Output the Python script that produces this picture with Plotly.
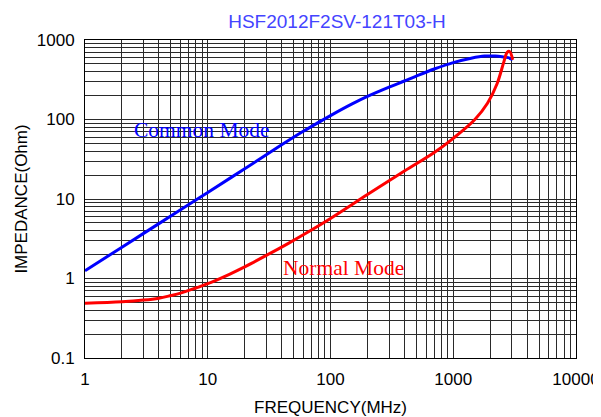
import plotly.graph_objects as go

# Data
cm_freq = [1, 2, 4, 8, 10, 20, 40, 60, 80, 100, 150, 200, 300, 400, 500, 700, 1000, 1400, 1800, 2200, 2500, 2800, 3050]
cm_imp = [1.25, 2.48, 4.9, 9.7, 12.1, 24, 48, 71, 92, 112, 157, 195, 255, 305, 352, 432, 520, 590, 628, 627, 616, 600, 565]

nm_freq = [1, 2, 3, 4, 5, 6, 8, 10, 15, 20, 30, 45, 60, 100, 200, 400, 700, 1000, 1500, 1900, 2275, 2580, 2750, 2880, 3050]
nm_imp = [0.49, 0.51, 0.535, 0.565, 0.61, 0.655, 0.76, 0.86, 1.13, 1.40, 1.95, 2.75, 3.55, 5.7, 11.4, 22.5, 38.5, 58, 100, 160, 282, 527, 700, 717, 565]

x_ticks = [1, 10, 100, 1000, 10000]
x_ticktext = ["1", "10", "100", "1000", "10000"]
y_ticks = [0.1, 1, 10, 100, 1000]
y_ticktext = ["0.1", "1", "10", "100", "1000"]

title_text = "HSF2012F2SV-121T03-H"
x_title = "FREQUENCY(MHz)"
y_title = "IMPEDANCE(Ohm)"

fig = go.Figure()
fig.add_trace(go.Scatter(x=cm_freq, y=cm_imp, mode="lines", line=dict(color="#0000ff", width=3),
                         line_shape="spline", name="Common Mode", showlegend=False))
fig.add_trace(go.Scatter(x=nm_freq, y=nm_imp, mode="lines", line=dict(color="#ff0000", width=3),
                         line_shape="spline", name="Normal Mode", showlegend=False))

grid_color = "#2a2a2a"
axis_font = dict(family="Liberation Sans, Arial", size=17, color="black")
title_font = dict(family="Liberation Sans, Arial", size=17, color="black")

fig.update_xaxes(type="log", range=[0, 4], tickmode="array", tickvals=x_ticks, ticktext=x_ticktext,
                 showgrid=True, gridcolor=grid_color, gridwidth=1,
                 minor=dict(dtick="D1", showgrid=True, gridcolor=grid_color, gridwidth=1, ticks=""),
                 showline=True, linecolor="black", linewidth=1, mirror=True,
                 ticks="", tickfont=axis_font, ticklabelstandoff=6, automargin=False,
                 title=dict(text=x_title, font=title_font, standoff=21),
                 zeroline=False)
fig.update_yaxes(type="log", range=[-1, 3], tickmode="array", tickvals=y_ticks, ticktext=y_ticktext,
                 showgrid=True, gridcolor=grid_color, gridwidth=1,
                 minor=dict(dtick="D1", showgrid=True, gridcolor=grid_color, gridwidth=1, ticks=""),
                 showline=True, linecolor="black", linewidth=1, mirror=True,
                 ticks="", tickfont=axis_font, ticklabelstandoff=6, automargin=False,
                 title=dict(text=y_title, font=title_font, standoff=4),
                 zeroline=False)

fig.add_annotation(x=0.951, y=1.864, xref="x", yref="y", text="Common Mode", showarrow=False,
                   font=dict(family="Liberation Serif, Times New Roman", size=21.5, color="#0000ff"))
fig.add_annotation(x=2.102, y=0.131, xref="x", yref="y", text="Normal Mode", showarrow=False,
                   font=dict(family="Liberation Serif, Times New Roman", size=21.5, color="#ff0000"))

# The page body has an 8px margin, so the figure is sized to fit the 601x417 window
fig.update_layout(
    width=593, height=409,
    margin=dict(l=77, r=25, t=32, b=59),
    paper_bgcolor="white", plot_bgcolor="white",
    title=dict(text=title_text, x=329 / 593, xanchor="center", xref="container",
               y=1 - 13 / 409, yanchor="middle", yref="container",
               font=dict(family="Liberation Sans, Arial", size=19, color="#4444ff")),
)

fig.write_html("out.html")
